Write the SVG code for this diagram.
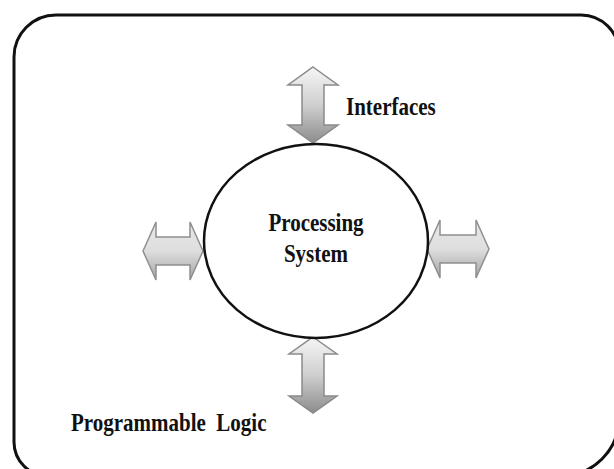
<svg xmlns="http://www.w3.org/2000/svg" width="614" height="469" viewBox="0 0 614 469">
  <defs>
    <linearGradient id="gradV" x1="0" y1="0" x2="0" y2="1">
      <stop offset="0" stop-color="#f6f6f6"/>
      <stop offset="0.5" stop-color="#cfcfcf"/>
      <stop offset="1" stop-color="#8c8c8c"/>
    </linearGradient>
    <linearGradient id="gradH" x1="0" y1="0" x2="0" y2="1">
      <stop offset="0" stop-color="#e8e8e8"/>
      <stop offset="0.5" stop-color="#dedede"/>
      <stop offset="1" stop-color="#a4a4a4"/>
    </linearGradient>
    <style>
      .frame { fill: #ffffff; stroke: #111111; stroke-width: 3; }
      .core { fill: #ffffff; stroke: #111111; stroke-width: 2.5; }
      .arrowV { fill: url(#gradV); stroke: #8a8a8a; stroke-width: 1.5; stroke-linejoin: miter; }
      .arrowH { fill: url(#gradH); stroke: #8f8f8f; stroke-width: 1.5; stroke-linejoin: miter; }
      .label { font-family: "Liberation Serif", "Times New Roman", serif; font-weight: bold; font-size: 21px; fill: #111111; }
    </style>
  </defs>

  <rect width="614" height="469" fill="#ffffff"/>

  <!-- outer boundary: programmable logic region -->
  <g id="programmable-logic">
    <path class="frame" d="M14,57 A42,42 0 0 1 56,15 L581,15 A38,38 0 0 1 619,53 L619,418 A58,58 0 0 1 561,476 L48,476 A34,34 0 0 1 14,442 Z"/>
    <text class="label" transform="translate(71,431) scale(1,1.18)" xml:space="preserve">Programmable  Logic</text>
  </g>

  <!-- interface arrows around the processing system -->
  <g id="connectors">
    <path id="arrow-top" class="arrowV" d="M313,67 L338,85 L324,85 L324,125 L338,125 L313,143 L288,125 L302,125 L302,85 L288,85 Z"/>
    <path id="arrow-bottom" class="arrowV" d="M313,337 L337,354 L324,354 L324,396 L337,396 L313,413 L289,396 L302,396 L302,354 L289,354 Z"/>
    <path id="arrow-left" class="arrowH" d="M143,251 L156,222 L156,237 L190,237 L190,222 L203,251 L190,280 L190,265 L156,265 L156,280 Z"/>
    <path id="arrow-right" class="arrowH" d="M427,249 L440,220 L440,235 L476,235 L476,220 L489,249 L476,278 L476,263 L440,263 L440,278 Z"/>
  </g>

  <g id="interfaces">
    <text class="label" transform="translate(346,115) scale(1,1.2)">Interfaces</text>
  </g>

  <!-- central processing system -->
  <g id="processing-system">
    <ellipse class="core" cx="316" cy="241" rx="112" ry="97"/>
    <text class="label" text-anchor="middle" transform="translate(316,231) scale(1,1.15)">Processing</text>
    <text class="label" text-anchor="middle" transform="translate(316,262) scale(1,1.15)">System</text>
  </g>
</svg>
